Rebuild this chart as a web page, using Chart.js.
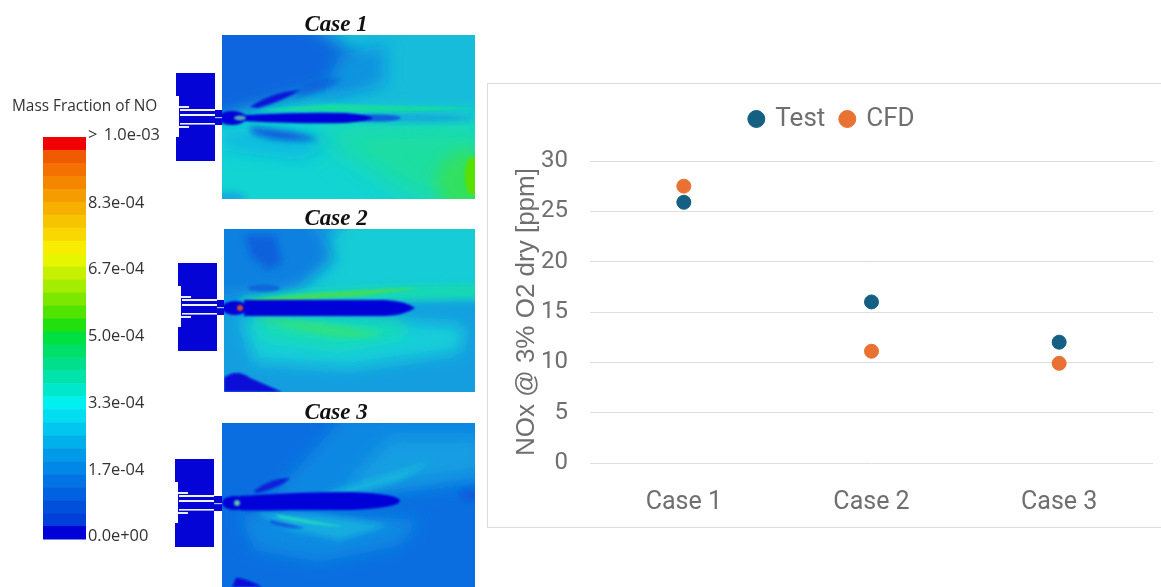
<!DOCTYPE html>
<html>
<head>
<meta charset="utf-8">
<title>NOx cases</title>
<script src="https://cdn.jsdelivr.net/npm/chart.js@4"></script>
<style>
    html, body { margin: 0; padding: 0; background: #fff; overflow: hidden; }
    #contours { position: absolute; left: 0; top: 0; width: 480px; height: 587px; filter: blur(0.5px); }
    #card { position: absolute; left: 487px; top: 83px; width: 674px; height: 445px; box-sizing: border-box; border: 1px solid #dcdcdc; border-right: none; }
    #chartBox { position: absolute; left: 487px; top: 83px; width: 674px; height: 445px; }
    .case-title { font: italic bold 23px "Liberation Serif"; fill: #111; text-anchor: middle; }
    .bar-label { font: 16.4px "Open Sans"; fill: #333; }
</style>
</head>
<body>
<svg id="contours" viewBox="0 0 480 587" xmlns="http://www.w3.org/2000/svg">
    <defs>
        <filter id="b1" x="-30%" y="-100%" width="160%" height="300%"><feGaussianBlur stdDeviation="1.2"/></filter>
        <filter id="b3" x="-30%" y="-100%" width="160%" height="300%"><feGaussianBlur stdDeviation="3"/></filter>
        <filter id="b8" x="-40%" y="-40%" width="180%" height="180%"><feGaussianBlur stdDeviation="8"/></filter>
        <filter id="b14" x="-50%" y="-50%" width="200%" height="200%"><feGaussianBlur stdDeviation="14"/></filter>
        <clipPath id="clip1"><rect x="222" y="35" width="253" height="164"/></clipPath>
        <clipPath id="clip2"><rect x="224" y="229" width="251" height="163"/></clipPath>
        <clipPath id="clip3"><rect x="222" y="423" width="253" height="164"/></clipPath>
        <g id="burner">
            <path d="M0,-45 H39 V43 H0 V19 H3 V-22 H0 Z" fill="#0404d6"/>
            <rect x="3" y="-12" width="10" height="2" fill="#e6ebf8"/>
            <rect x="3" y="8" width="10" height="2" fill="#e6ebf8"/>
            <rect x="4" y="-9" width="36" height="2" fill="#eef2fb"/>
            <rect x="4" y="-4" width="36" height="2" fill="#eef2fb"/>
            <rect x="4" y="5" width="36" height="1.6" fill="#eef2fb"/>
            <rect x="39" y="-8" width="10" height="15" fill="#0404d6"/>
            <rect x="39" y="-1" width="14" height="1.2" fill="#a8c0f0"/>
        </g>
    </defs>

    <text class="case-title" x="336" y="31">Case 1</text>
    <text class="case-title" x="336" y="225">Case 2</text>
    <text class="case-title" x="336" y="419">Case 3</text>

    <use href="#burner" x="176" y="118"/>
    <use href="#burner" x="178" y="308"/>
    <use href="#burner" x="175" y="504"/>

    <!-- Case 1 -->
    <g clip-path="url(#clip1)">
        <rect x="222" y="35" width="253" height="164" fill="#12d4d2"/>
        <path d="M320,20 H490 V112 H290 Z" fill="#12bcda" filter="url(#b8)"/>
        <path d="M200,15 H300 L360,58 L362,80 L300,96 L200,125 Z" fill="#0c66de" filter="url(#b8)"/>
        <path d="M340,55 L385,45 L385,85 L320,100 Z" fill="#1094e0" filter="url(#b8)"/>
        <path d="M222,130 L280,128 L340,140 L300,160 L222,150 Z" fill="#10bce0" filter="url(#b8)"/>
        <path d="M255,110 L330,104 L480,108 L400,113 Z" fill="#18dca4" filter="url(#b1)"/>
        <path d="M310,128 L480,124 L490,200 L420,200 Z" fill="#1cdea0" filter="url(#b14)"/>
        <ellipse cx="470" cy="182" rx="34" ry="32" fill="#30e060" filter="url(#b8)"/>
        <ellipse cx="472" cy="176" rx="7" ry="19" fill="#58e000" filter="url(#b1)"/>
        <ellipse cx="226" cy="198" rx="20" ry="6" fill="#18a8e0" filter="url(#b3)"/>
        <ellipse cx="415" cy="118" rx="60" ry="4" fill="#14a4de" filter="url(#b3)"/>
        <ellipse cx="375" cy="118" rx="26" ry="3.5" fill="#0c60dc" filter="url(#b1)"/>
        <path d="M244,115 Q300,112 345,113 Q368,115 373,118 Q368,121 345,123 Q300,124 244,121 Z" fill="#0606d8" filter="url(#b1)"/>
        <path d="M250,107 Q272,92 300,90 Q285,100 258,108 Z" fill="#0818d8" filter="url(#b1)"/>
        <path d="M300,90 Q325,78 342,79 Q325,90 290,96 Z" fill="#0c58dc" filter="url(#b3)"/>
        <path d="M250,127 Q290,130 320,139 Q280,144 252,133 Z" fill="#0c58dc" filter="url(#b3)"/>
        <ellipse cx="232" cy="118" rx="14" ry="7" fill="#0606d8" filter="url(#b1)"/>
        <ellipse cx="240" cy="118" rx="6" ry="2.5" fill="#58a8b8" filter="url(#b1)"/>
    </g>

    <!-- Case 2 -->
    <g clip-path="url(#clip2)">
        <rect x="224" y="229" width="251" height="163" fill="#149ee0"/>
        <path d="M350,215 H490 V298 H280 Z" fill="#12ccd6" filter="url(#b8)"/>
        <path d="M210,215 H310 L335,258 L300,288 L210,298 Z" fill="#0e80e0" filter="url(#b8)"/>
        <path d="M245,235 H275 L282,262 L268,270 L250,255 Z" fill="#0c62dc" filter="url(#b3)"/>
        <path d="M240,298 Q330,284 480,284 L480,298 L420,300 L240,302 Z" fill="#14d8b4" filter="url(#b3)"/>
        <path d="M248,300 Q320,291 420,288 L360,296 L260,302 Z" fill="#40dc60" filter="url(#b1)"/>
        <ellipse cx="264" cy="288" rx="16" ry="3.5" fill="#0c68dc" filter="url(#b1)"/>
        <path d="M240,318 L330,316 L465,326 L460,352 L350,368 L255,362 Z" fill="#12cfd8" filter="url(#b8)"/>
        <path d="M250,318 L320,318 L400,322 L410,334 L340,348 L265,338 Z" fill="#18deb0" filter="url(#b8)"/>
        <path d="M250,318 Q320,320 385,335 Q340,340 300,330 Z" fill="#30e080" filter="url(#b3)"/>
        <path d="M224,392 L224,378 Q236,368 250,378 L282,392 Z" fill="#0808d8" filter="url(#b1)"/>
        <path d="M244,300 H385 Q405,301 415,308 Q405,315 385,316 H244 Z" fill="#0606d8" filter="url(#b1)"/>
        <ellipse cx="235" cy="308" rx="13" ry="7" fill="#0606d8" filter="url(#b1)"/>
        <circle cx="240" cy="308" r="3" fill="#d05030" filter="url(#b1)"/>
    </g>

    <!-- Case 3 -->
    <g clip-path="url(#clip3)">
        <rect x="222" y="423" width="253" height="164" fill="#0a6ee0"/>
        <path d="M345,415 H490 V482 L300,505 L265,505 Z" fill="#0c88e2" filter="url(#b8)"/>
        <path d="M390,438 H480 V472 L340,492 Z" fill="#129ee2" filter="url(#b8)"/>
        <path d="M320,495 L435,460 L400,480 L340,497 Z" fill="#18b6de" filter="url(#b3)"/>
        <path d="M460,490 H490 V500 H462 Z" fill="#0a5cdc" filter="url(#b3)"/>
        <path d="M240,515 L300,512 L420,520 L400,545 L320,562 L255,550 Z" fill="#0c8ae2" filter="url(#b8)"/>
        <path d="M255,512 L320,515 L390,525 L340,540 L290,530 Z" fill="#14ace0" filter="url(#b3)"/>
        <path d="M275,514 Q310,520 345,527 Q310,525 280,518 Z" fill="#20d4c4" filter="url(#b1)"/>
        <path d="M270,520 Q290,524 305,528 Q285,530 270,523 Z" fill="#0c60dc" filter="url(#b1)"/>
        <path d="M254,491 Q270,478 290,478 Q280,488 256,493 Z" fill="#0a20d8" filter="url(#b1)"/>
        <path d="M240,496 Q300,492 350,492 Q400,494 400,501 Q398,508 350,510 L290,510 Q250,511 240,510 Z" fill="#0606d8" filter="url(#b1)"/>
        <ellipse cx="235" cy="503" rx="13" ry="7" fill="#0606d8" filter="url(#b1)"/>
        <circle cx="237" cy="503" r="3" fill="#60c8a8" filter="url(#b1)"/>
        <path d="M232,587 L236,578 Q245,578 262,587 Z" fill="#0808d8" filter="url(#b1)"/>
    </g>

    <g id="colorBar"></g>
    <text x="12" y="111" style="font:15.4px 'Open Sans';fill:#333">Mass Fraction of NO</text>
    <text class="bar-label" x="88" y="140" style="word-spacing:2px">&gt; 1.0e-03</text>
    <text class="bar-label" x="88" y="208">8.3e-04</text>
    <text class="bar-label" x="88" y="274">6.7e-04</text>
    <text class="bar-label" x="88" y="341">5.0e-04</text>
    <text class="bar-label" x="88" y="408">3.3e-04</text>
    <text class="bar-label" x="88" y="475">1.7e-04</text>
    <text class="bar-label" x="88" y="541">0.0e+00</text>
</svg>

<div id="card"></div>
<div id="chartBox"><canvas id="chart"></canvas></div>

<script>
const categories = ['Case 1', 'Case 2', 'Case 3'];
const testValues = [25.9, 16, 12];
const cfdValues = [27.5, 11.1, 9.9];
const yMin = 0;
const yMax = 30;
const yStep = 5;

const barColors = [
    '#f00000', '#f05a00', '#f47000', '#f58600', '#f59c00', '#f5b000', '#f7c400', '#f8d800',
    '#f8ec00', '#e6f600', '#c6f000', '#a4ec00', '#7ce800', '#50e400', '#20e010', '#00e040',
    '#00e068', '#00e08c', '#00e4ac', '#00e8cc', '#00f0f0', '#00dcf0', '#00c6f0', '#00b0ea',
    '#009ae8', '#0088e8', '#0074e4', '#0062e0', '#0050dc', '#0040da', '#0000d8',
];

// colour scale, top to bottom
const barGroup = document.getElementById('colorBar');
barColors.forEach((color, i) => {
    const band = document.createElementNS('http://www.w3.org/2000/svg', 'rect');
    band.setAttribute('x', 43);
    band.setAttribute('y', 137 + i * 402 / barColors.length);
    band.setAttribute('width', 43);
    band.setAttribute('height', 402 / barColors.length + 0.5);
    band.setAttribute('fill', color);
    barGroup.appendChild(band);
});

const labelFont = 'Roboto';
const textColor = '#6f6f6f';

const fixedLegendHeight = {
    id: 'fixedLegendHeight',
    beforeInit(chart) {
        const fit = chart.legend.fit;
        chart.legend.fit = function () {
            fit.call(this);
            this.height = 71;
        };
    },
};

new Chart(document.getElementById('chart'), {
    type: 'line',
    data: {
        labels: categories,
        datasets: [
            { label: 'Test', data: testValues, showLine: false, pointRadius: 7, pointHoverRadius: 7, backgroundColor: '#156082', borderColor: '#156082' },
            { label: 'CFD', data: cfdValues, showLine: false, pointRadius: 7, pointHoverRadius: 7, backgroundColor: '#E97132', borderColor: '#E97132' },
        ],
    },
    options: {
        responsive: true,
        maintainAspectRatio: false,
        animation: false,
        layout: { padding: { left: 24, right: 7, top: 7, bottom: 0 } },
        plugins: {
            tooltip: { enabled: false },
            legend: {
                position: 'top',
                labels: {
                    usePointStyle: true,
                    pointStyle: 'circle',
                    boxWidth: 12,
                    boxHeight: 12,
                    padding: 16,
                    color: textColor,
                    font: { family: labelFont, size: 26 },
                },
            },
        },
        scales: {
            x: {
                offset: true,
                grid: { display: false },
                border: { display: false },
                ticks: { color: textColor, padding: 17, maxRotation: 0, font: { family: labelFont, size: 25 } },
                afterFit(scale) { scale.height = 65; },
            },
            y: {
                min: yMin,
                max: yMax,
                ticks: { stepSize: yStep, color: textColor, padding: 22, font: { family: labelFont, size: 24 } },
                grid: { color: '#dedede', lineWidth: 1, drawTicks: false },
                border: { display: false },
                title: { display: true, text: 'NOx @ 3% O2 dry [ppm]', color: textColor, padding: { top: 0, bottom: 0 }, font: { family: 'Liberation Sans', size: 26 } },
                afterFit(scale) { scale.width = 79; },
            },
        },
    },
    plugins: [fixedLegendHeight],
});
</script>
</body>
</html>
